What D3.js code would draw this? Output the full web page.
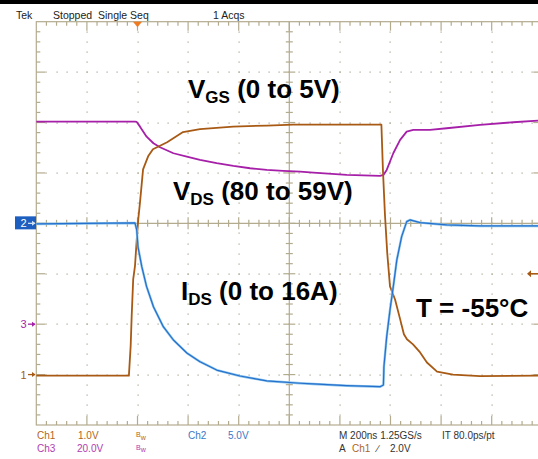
<!DOCTYPE html>
<html>
<head>
<meta charset="utf-8">
<script src="https://cdn.jsdelivr.net/npm/d3@7"></script>
<style>
  html, body { margin: 0; padding: 0; background: #fff; }
  svg { display: block; }
</style>
</head>
<body>
<div id="scope"></div>
<script>
// time axis in ns from left edge of the screen (200 ns/div, 10 div)
// Ch1 = VGS (1 V/div), Ch2 = IDS probe (5 V/div), Ch3 = VDS (20 V/div)
const ch1Time = [0, 366, 373, 377, 383, 390, 397, 403, 410, 422, 442, 461, 517, 580, 647, 778, 912, 1015, 1200, 1364, 1370, 1378, 1387, 1398, 1418, 1438, 1453, 1465, 1489, 1517, 1544, 1584, 1647, 1754, 2000];
const ch1Volts = [-0.02, -0.02, 0.57, 1.16, 1.89, 2.15, 2.68, 3.08, 3.42, 4.07, 4.33, 4.47, 4.61, 4.81, 4.87, 4.92, 4.94, 4.96, 4.96, 4.96, 4.07, 3.18, 2.42, 1.75, 1.49, 1.10, 0.80, 0.70, 0.60, 0.44, 0.24, 0.06, 0.00, -0.03, -0.02];

const ch2Time = [0, 390, 397, 402, 417, 436, 463, 502, 542, 595, 647, 713, 805, 911, 1043, 1095, 1227, 1359, 1372, 1374, 1385, 1398, 1411, 1425, 1444, 1464, 1477, 1517, 1622, 1754, 2000];
const ch2Volts = [-0.06, 0.04, -0.65, -2.34, -4.30, -6.28, -8.27, -10.25, -11.57, -12.86, -13.72, -14.55, -15.14, -15.63, -15.86, -15.93, -16.10, -16.20, -16.03, -14.22, -11.24, -8.59, -6.28, -3.63, -1.32, 0.17, 0.34, 0.07, -0.16, -0.26, -0.26];

const ch3Time = [0, 390, 397, 410, 436, 463, 489, 542, 595, 647, 713, 779, 845, 911, 976, 1043, 1095, 1227, 1359, 1372, 1385, 1411, 1438, 1464, 1490, 1556, 1622, 1754, 1885, 2000];
const ch3Volts = [80.35, 80.35, 80.23, 78.37, 74.40, 71.78, 70.19, 67.81, 66.46, 65.16, 63.85, 62.77, 61.86, 61.19, 60.79, 60.51, 60.12, 59.20, 58.81, 59.20, 61.19, 67.81, 73.14, 76.38, 77.06, 77.06, 77.73, 79.04, 80.11, 80.83];

const channels = [
  { name: "Ch3", time: ch3Time, values: ch3Volts, perDiv: 20, offset: -2, color: "#a61fa8" },
  { name: "Ch1", time: ch1Time, values: ch1Volts, perDiv: 1, offset: -3, color: "#a85a14" },
  { name: "Ch2", time: ch2Time, values: ch2Volts, perDiv: 5, offset: 0, color: "#2470cc" }
];

const W = 538, H = 459;
const gLeft = 36.3, gRight = 542.3, gTop = 21.7, gBottom = 425;

const x = d3.scaleLinear().domain([0, 2000]).range([gLeft, gRight]);
const div = d3.scaleLinear().domain([-4, 4]).range([gBottom, gTop]);
const xDiv = d3.scaleLinear().domain([0, 10]).range([gLeft, gRight]);

const svg = d3.select("#scope").append("svg")
  .attr("width", W).attr("height", H)
  .style("font-family", "'Liberation Sans', Arial, sans-serif");

svg.append("rect").attr("width", W).attr("height", H).attr("fill", "#fff");
svg.append("rect").attr("width", W).attr("height", 4).attr("fill", "#000");

const grat = "#b3ab8e";
const g = svg.append("g");

// dotted division lines
const dots = [];
for (let i = 1; i < 10; i++) {
  if (i === 5) continue;
  for (let k = 1; k < 40; k++) dots.push([xDiv(i), div(-4 + k / 5)]);
}
for (let j = -3; j <= 3; j++) {
  if (j === 0) continue;
  for (let k = 1; k < 50; k++) dots.push([xDiv(k / 5), div(j)]);
}
g.selectAll(".dot").data(dots).enter().append("rect")
  .attr("x", d => Math.round(d[0]) - 0.5).attr("y", d => Math.round(d[1]) - 0.5)
  .attr("width", 1.2).attr("height", 1.2).attr("fill", "#aaa391");

// border
g.append("rect").attr("x", gLeft).attr("y", gTop)
  .attr("width", gRight - gLeft).attr("height", gBottom - gTop)
  .attr("fill", "none").attr("stroke", grat).attr("stroke-width", 1.2);

// border ticks
const ticks = [];
for (let k = 1; k < 50; k++) {
  const xx = xDiv(k / 5), len = k % 5 === 0 ? 9 : 4;
  ticks.push([xx, gTop, xx, gTop + len], [xx, gBottom, xx, gBottom - len]);
}
for (let k = 1; k < 40; k++) {
  const yy = div(-4 + k / 5), len = k % 5 === 0 ? 9 : 4;
  ticks.push([gLeft, yy, gLeft + len, yy], [gRight, yy, gRight - len, yy]);
}
// centre axes
const cx = xDiv(5), cy = div(0);
ticks.push([gLeft, cy, gRight, cy], [cx, gTop, cx, gBottom]);
for (let k = 1; k < 50; k++) {
  const xx = xDiv(k / 5), h = k % 5 === 0 ? 6 : 3.5;
  ticks.push([xx, cy - h, xx, cy + h]);
}
for (let k = 1; k < 40; k++) {
  const yy = div(-4 + k / 5), h = k % 5 === 0 ? 6 : 3.5;
  ticks.push([cx - h, yy, cx + h, yy]);
}
g.selectAll(".tk").data(ticks).enter().append("line")
  .attr("x1", d => d[0]).attr("y1", d => d[1])
  .attr("x2", d => d[2]).attr("y2", d => d[3])
  .attr("stroke", grat).attr("stroke-width", 1.2);

// traces
const traces = svg.append("g");
channels.forEach(ch => {
  const pts = ch.time.map((t, i) => [x(t), div(ch.offset + ch.values[i] / ch.perDiv)]);
  const line = d3.line();
  if (ch.name === "Ch2") {
    traces.append("path").attr("d", line(pts)).attr("fill", "none")
      .attr("stroke", "#8cc4ec").attr("stroke-width", 2.4).attr("stroke-linejoin", "round");
    traces.append("path").attr("d", line(pts)).attr("fill", "none")
      .attr("stroke", ch.color).attr("stroke-width", 1.2).attr("stroke-linejoin", "round");
  } else {
    traces.append("path").attr("d", line(pts)).attr("fill", "none")
      .attr("stroke", ch.color).attr("stroke-width", 1.8).attr("stroke-linejoin", "round");
  }
});

// trigger position marker (top)
const tp = x(400);
svg.append("path")
  .attr("d", `M${tp - 4.5},${gTop} L${tp + 4.5},${gTop} L${tp},${gTop + 5.5} Z`)
  .attr("fill", "#f07a22");

// trigger level arrow (right, Ch1 at 2.0V)
const trigY = div(-3 + 2.0);
svg.append("path").attr("d", `M528,${trigY} L538,${trigY}`).attr("stroke", "#a85a14").attr("stroke-width", 1.5);
svg.append("path").attr("d", `M527,${trigY} L531,${trigY - 3.5} L531,${trigY + 3.5} Z`).attr("fill", "#a85a14");

// channel ground markers (left)
const gy2 = div(0);
svg.append("rect").attr("x", 15).attr("y", gy2 - 7).attr("width", 21).attr("height", 13).attr("fill", "#1c5fc0");
svg.append("text").attr("x", 20.5).attr("y", gy2 + 4).attr("fill", "#fff").attr("font-size", 11).text("2");
svg.append("path").attr("d", `M28,${gy2} L35,${gy2}`).attr("stroke", "#cfe0f5").attr("stroke-width", 1.3);
svg.append("path").attr("d", `M35.5,${gy2} L32,${gy2 - 2.5} L32,${gy2 + 2.5} Z`).attr("fill", "#cfe0f5");

[{ label: "3", off: -2, color: "#a61fa8" }, { label: "1", off: -3, color: "#a85a14" }].forEach(m => {
  const yy = div(m.off);
  svg.append("text").attr("x", 20.5).attr("y", yy + 4).attr("fill", m.color).attr("font-size", 11).text(m.label);
  svg.append("path").attr("d", `M28,${yy} L35,${yy}`).attr("stroke", m.color).attr("stroke-width", 1.3);
  svg.append("path").attr("d", `M35.5,${yy} L32,${yy - 2.5} L32,${yy + 2.5} Z`).attr("fill", m.color);
});

// status texts
const small = (xx, yy, txt, color, size) =>
  svg.append("text").attr("x", xx).attr("y", yy).attr("font-size", size || 10).attr("fill", color || "#222").text(txt);
small(16, 18.5, "Tek", "#222", 10.5);
small(53, 18.5, "Stopped", "#222", 10.5);
small(98, 18.5, "Single Seq", "#222", 10.5);
small(213, 18.5, "1 Acqs", "#222", 10.5);

const bw = (xx, yy, color) => {
  const t = svg.append("text").attr("x", xx).attr("y", yy).attr("fill", color).attr("font-size", 7);
  t.append("tspan").text("B");
  t.append("tspan").attr("dy", 2.5).text("w");
};
small(37, 439, "Ch1", "#b0661c");
small(78, 439, "1.0V", "#b0661c");
bw(136, 437, "#b0661c");
small(188, 439, "Ch2", "#3a78c8");
small(228, 439, "5.0V", "#3a78c8");
small(37, 451.5, "Ch3", "#b03cb0");
small(77, 451.5, "20.0V", "#b03cb0");
bw(136, 449.5, "#b03cb0");
small(339, 439, "M 200ns 1.25GS/s", "#333");
small(442, 439, "IT 80.0ps/pt", "#333");
small(339, 451.5, "A", "#333");
small(352, 451.5, "Ch1", "#b0661c");
small(377, 451.5, "\u2215", "#333");
small(390, 451.5, "2.0V", "#333");

// big annotation labels
const big = (xx, yy, main, sub, rest) => {
  const t = svg.append("text").attr("x", xx).attr("y", yy)
    .attr("font-size", 26).attr("font-weight", "bold").attr("fill", "#000");
  t.append("tspan").text(main);
  if (sub) {
    t.append("tspan").attr("font-size", 17).attr("dy", 5).text(sub);
    t.append("tspan").attr("dy", -5).text(rest);
  }
  return t;
};
big(188, 98, "V", "GS", " (0 to 5V)");
big(173, 200, "V", "DS", " (80 to 59V)");
big(181, 300, "I", "DS", " (0 to 16A)");
big(416, 317, "T = -55\u00b0C");
</script>
</body>
</html>
